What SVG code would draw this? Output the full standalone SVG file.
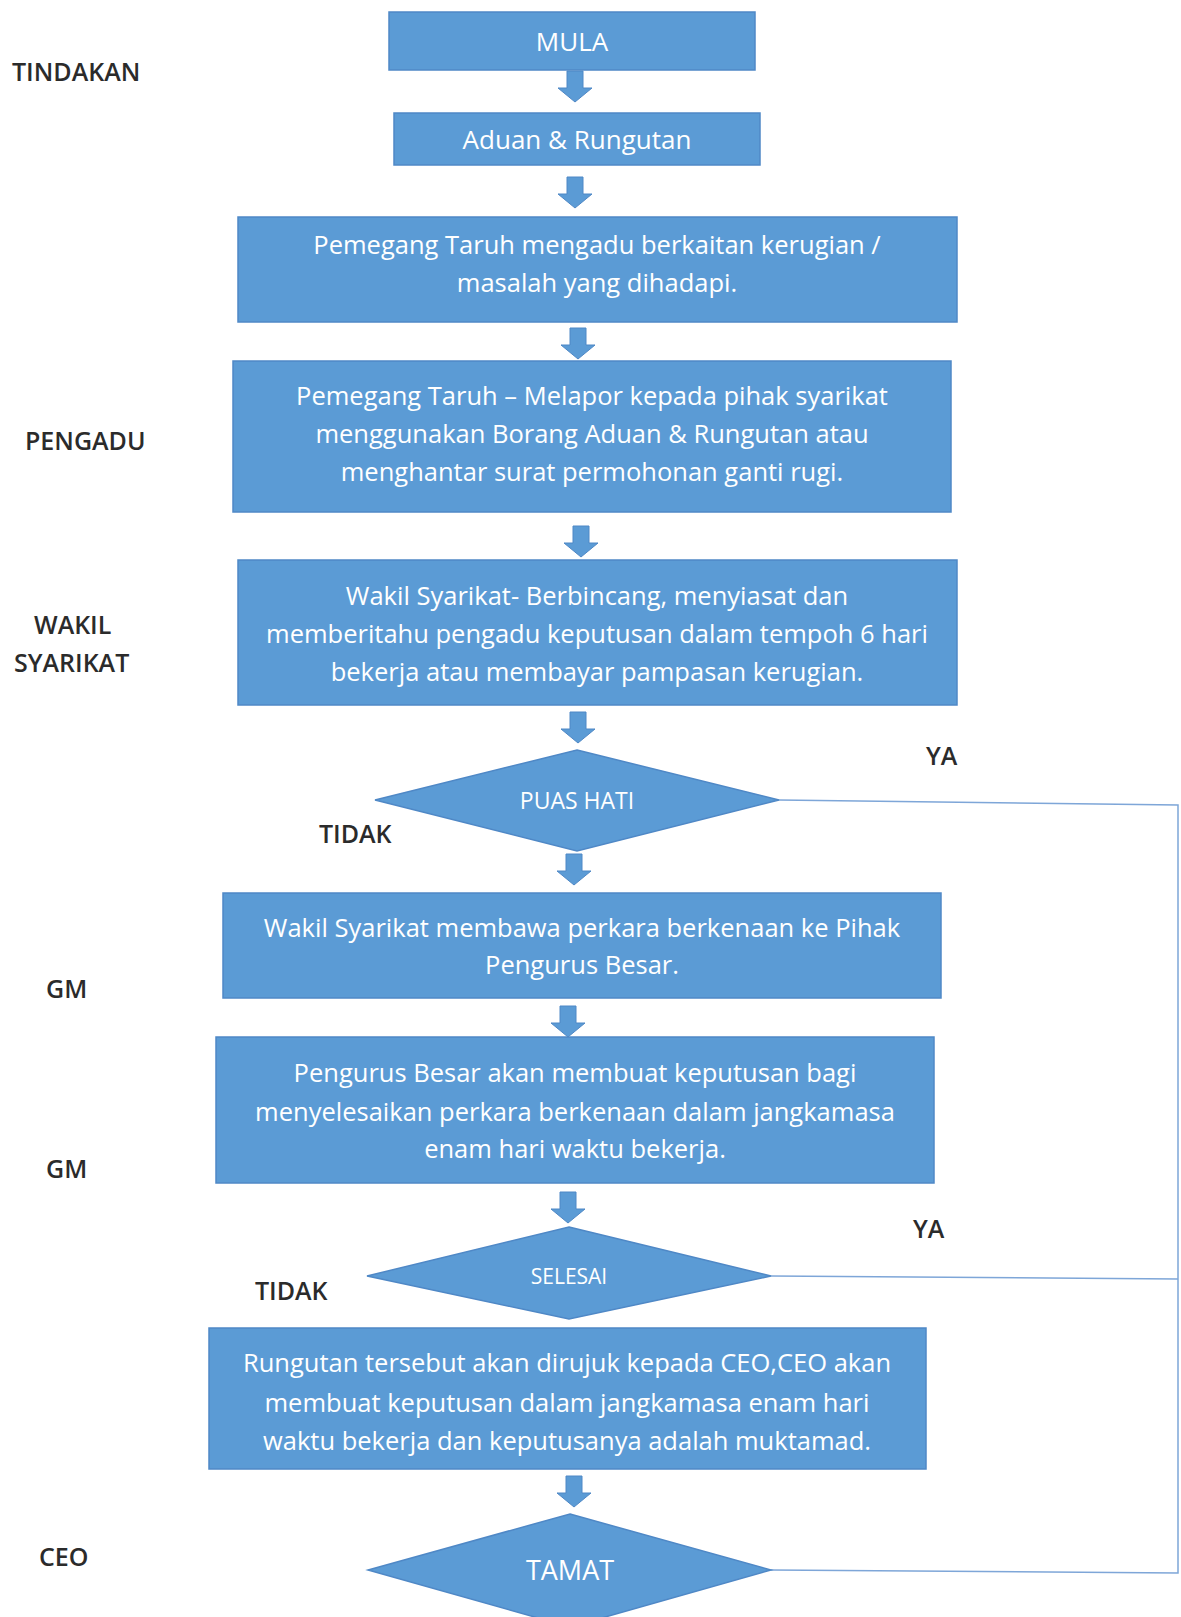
<svg xmlns="http://www.w3.org/2000/svg" width="1181" height="1617" viewBox="0 0 1181 1617">
<style>
.box{fill:#5b9bd5;stroke:#4f88c6;stroke-width:1.5}
.t{font-family:"Open Sans","Liberation Sans",sans-serif;fill:#ffffff;text-anchor:middle;font-size:25.5px}
.lbl{font-family:"Open Sans","Liberation Sans",sans-serif;fill:#2b2b2b;font-size:25px;font-weight:600}
.ln{fill:none;stroke:#7ea6d8;stroke-width:1.5}
.arr{fill:#5b9bd5;stroke:#4f88c6;stroke-width:1}
</style>
<defs>
<path id="dn" d="M-8,0 H8 V17 H17 L0,31 L-17,17 H-8 Z"/>
</defs>
<rect width="1181" height="1617" fill="#ffffff"/>

<g id="labels">
<text class="lbl" x="12" y="81">TINDAKAN</text>
<text class="lbl" x="25" y="450">PENGADU</text>
<text class="lbl" x="34" y="634">WAKIL</text>
<text class="lbl" x="14" y="672">SYARIKAT</text>
<text class="lbl" x="46" y="998">GM</text>
<text class="lbl" x="46" y="1178">GM</text>
<text class="lbl" x="39" y="1566">CEO</text>
<text class="lbl" x="926" y="765">YA</text>
<text class="lbl" x="319" y="843">TIDAK</text>
<text class="lbl" x="913" y="1238">YA</text>
<text class="lbl" x="255" y="1300">TIDAK</text>
</g>

<g id="connectors">
<use href="#dn" class="arr" x="575" y="71"/>
<use href="#dn" class="arr" x="575" y="177"/>
<use href="#dn" class="arr" x="578" y="328"/>
<use href="#dn" class="arr" x="581" y="526"/>
<use href="#dn" class="arr" x="578" y="712"/>
<use href="#dn" class="arr" x="574" y="854"/>
<use href="#dn" class="arr" x="568" y="1006"/>
<use href="#dn" class="arr" x="568" y="1192"/>
<use href="#dn" class="arr" x="574" y="1476"/>
<polyline class="ln" points="779,800 1178,805 1178,1573 771,1570"/>
<line class="ln" x1="771" y1="1276" x2="1178" y2="1279"/>
</g>

<g id="mula">
<rect class="box" x="389" y="12" width="366" height="58"/>
<text class="t" x="572" y="51" style="font-size:26px">MULA</text>
</g>
<g id="aduan">
<rect class="box" x="394" y="113" width="366" height="52"/>
<text class="t" x="577" y="149" style="font-size:26px">Aduan &amp; Rungutan</text>
</g>
<g id="pemegang1">
<rect class="box" x="238" y="217" width="719" height="105"/>
<text class="t" x="597" y="254">Pemegang Taruh mengadu berkaitan kerugian /</text>
<text class="t" x="597" y="292">masalah yang dihadapi.</text>
</g>
<g id="pemegang2">
<rect class="box" x="233" y="361" width="718" height="151"/>
<text class="t" x="592" y="405">Pemegang Taruh – Melapor kepada pihak syarikat</text>
<text class="t" x="592" y="443">menggunakan Borang Aduan &amp; Rungutan atau</text>
<text class="t" x="592" y="481">menghantar surat permohonan ganti rugi.</text>
</g>
<g id="wakil">
<rect class="box" x="238" y="560" width="719" height="145"/>
<text class="t" x="597" y="605">Wakil Syarikat- Berbincang, menyiasat dan</text>
<text class="t" x="597" y="643">memberitahu pengadu keputusan dalam tempoh 6 hari</text>
<text class="t" x="597" y="681">bekerja atau membayar pampasan kerugian.</text>
</g>
<g id="puas">
<polygon class="box" points="577,750 779,800 577,851 375,800"/>
<text class="t" x="577" y="809" style="font-size:23px">PUAS HATI</text>
</g>
<g id="wakil2">
<rect class="box" x="223" y="893" width="718" height="105"/>
<text class="t" x="582" y="937">Wakil Syarikat membawa perkara berkenaan ke Pihak</text>
<text class="t" x="582" y="974">Pengurus Besar.</text>
</g>
<g id="pengurus">
<rect class="box" x="216" y="1037" width="718" height="146"/>
<text class="t" x="575" y="1082">Pengurus Besar akan membuat keputusan bagi</text>
<text class="t" x="575" y="1121">menyelesaikan perkara berkenaan dalam jangkamasa</text>
<text class="t" x="575" y="1158">enam hari waktu bekerja.</text>
</g>
<g id="selesai">
<polygon class="box" points="569,1227 771,1276 569,1319 367,1276"/>
<text class="t" x="569" y="1284" style="font-size:21px">SELESAI</text>
</g>
<g id="rungutan">
<rect class="box" x="209" y="1328" width="717" height="141"/>
<text class="t" x="567" y="1372">Rungutan tersebut akan dirujuk kepada CEO,CEO akan</text>
<text class="t" x="567" y="1412">membuat keputusan dalam jangkamasa enam hari</text>
<text class="t" x="567" y="1450">waktu bekerja dan keputusanya adalah muktamad.</text>
</g>
<g id="tamat">
<polygon class="box" points="570,1514 771,1570 570,1627 368,1570"/>
<text class="t" x="570" y="1580" style="font-size:27px">TAMAT</text>
</g>
</svg>
